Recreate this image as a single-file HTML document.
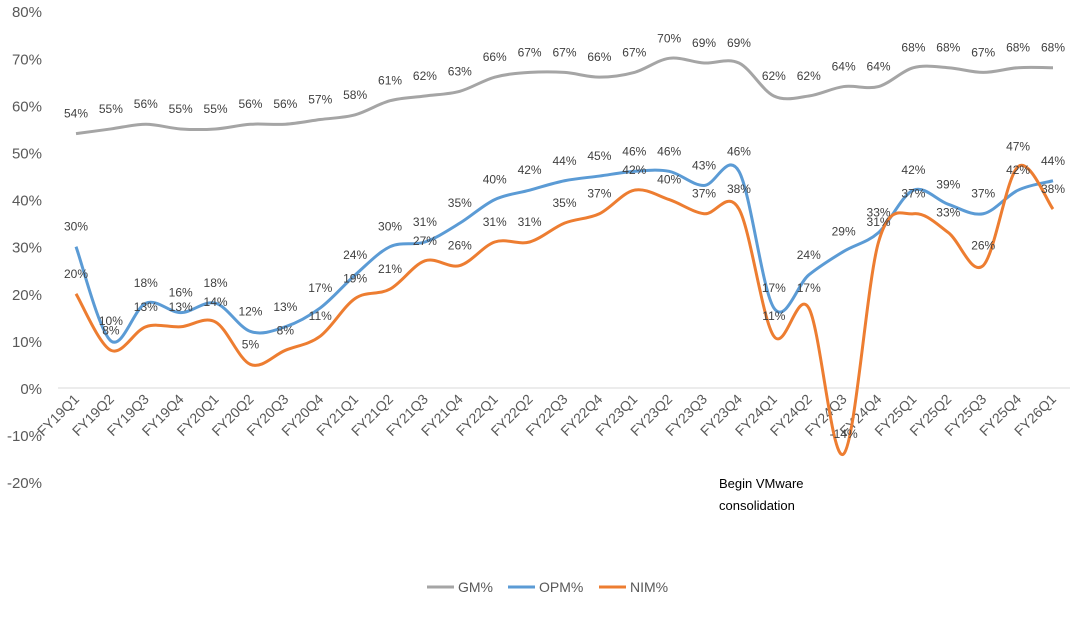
<!DOCTYPE html>
<html><head><meta charset="utf-8"><style>
body{margin:0;background:#fff;font-family:"Liberation Sans","DejaVu Sans",sans-serif}
svg text{font-family:"Liberation Sans","DejaVu Sans",sans-serif}
</style></head><body>
<svg id="chart" width="1080" height="614"></svg>
<script>
const categories=["FY19Q1","FY19Q2","FY19Q3","FY19Q4","FY20Q1","FY20Q2","FY20Q3","FY20Q4","FY21Q1","FY21Q2","FY21Q3","FY21Q4","FY22Q1","FY22Q2","FY22Q3","FY22Q4","FY23Q1","FY23Q2","FY23Q3","FY23Q4","FY24Q1","FY24Q2","FY24Q3","FY24Q4","FY25Q1","FY25Q2","FY25Q3","FY25Q4","FY26Q1"];
const gm=[54,55,56,55,55,56,56,57,58,61,62,63,66,67,67,66,67,70,69,69,62,62,64,64,68,68,67,68,68];
const opm=[30,10,18,16,18,12,13,17,24,30,31,35,40,42,44,45,46,46,43,46,17,24,29,33,42,39,37,42,44];
const nim=[20,8,13,13,14,5,8,11,19,21,27,26,31,31,35,37,42,40,37,38,11,17,-14,31,37,33,26,47,38];
const yTicks=[80,70,60,50,40,30,20,10,0,-10,-20];
const NS="http://www.w3.org/2000/svg";
const svg=document.getElementById('chart');
const x=i=>76+i*(1053-76)/28;
const y=v=>388-v*4.71;
function mk(t,a,p){const e=document.createElementNS(NS,t);for(const k in a)e.setAttribute(k,a[k]);(p||svg).appendChild(e);return e;}
yTicks.forEach(v=>{const t=mk('text',{x:42,y:y(v)+6,'text-anchor':'end','font-size':15,fill:'#595959'});t.textContent=v+'%';

});
const zl=mk('line',{x1:58,x2:1070,y1:y(0),y2:y(0),stroke:'#d9d9d9','stroke-width':1});


categories.forEach((c,i)=>{const t=mk('text',{x:x(i)+4,y:400,'text-anchor':'end','font-size':14,fill:'#595959',transform:`rotate(-45 ${x(i)+4} 400)`});t.textContent=c;

});
function path(d){let p=`M${x(0)},${y(d[0])}`;for(let i=0;i<d.length-1;i++){const p0=[x(Math.max(i-1,0)),y(d[Math.max(i-1,0)])],p1=[x(i),y(d[i])],p2=[x(i+1),y(d[i+1])],p3=[x(Math.min(i+2,d.length-1)),y(d[Math.min(i+2,d.length-1)])];
p+=` C${p1[0]+(p2[0]-p0[0])/6},${p1[1]+(p2[1]-p0[1])/6} ${p2[0]-(p3[0]-p1[0])/6},${p2[1]-(p3[1]-p1[1])/6} ${p2[0]},${p2[1]}`;}return p;}
const series=[[gm,'#a5a5a5','gm'],[opm,'#5b9bd5','opm'],[nim,'#ed7d31','nim']];
series.forEach(([d,col,n])=>{const l=mk('path',{d:path(d),fill:'none',stroke:col,'stroke-width':3});

});
series.forEach(([d,col,n])=>{d.forEach((v,i)=>{const t=mk('text',{x:x(i),y:y(v)-16,'text-anchor':'middle','font-size':12,fill:'#404040'});t.textContent=v+'%';

});});
const a1=mk('text',{x:719,y:488,'font-size':13,fill:'#000'});a1.textContent='Begin VMware';


const a2=mk('text',{x:719,y:510,'font-size':13,fill:'#000'});a2.textContent='consolidation';


const leg=[['GM%','#a5a5a5',427],['OPM%','#5b9bd5',508],['NIM%','#ed7d31',599]];
leg.forEach(([n,c,lx])=>{const g=mk('g',{});


mk('line',{x1:lx,x2:lx+27,y1:587,y2:587,stroke:c,'stroke-width':3},g);
const t=mk('text',{x:lx+31,y:592,'font-size':14,fill:'#595959'},g);t.textContent=n;});
</script>
</body></html>
